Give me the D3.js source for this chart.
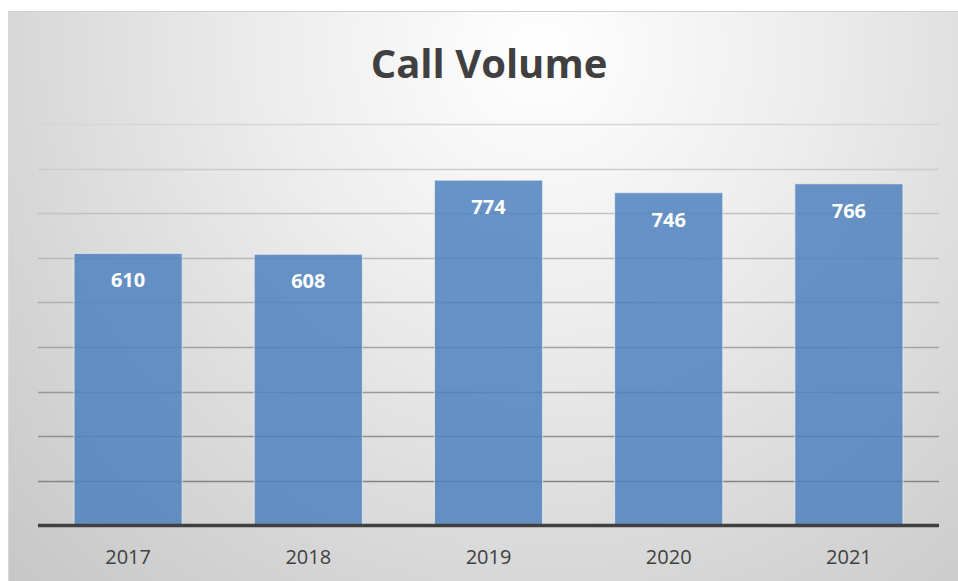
<!DOCTYPE html>
<html><head><meta charset="utf-8">
<script src="https://cdn.jsdelivr.net/npm/d3@7"></script>
<style>html,body{margin:0;padding:0;background:#fff;overflow:hidden}</style>
</head><body>
<script>
const categories = ["2017","2018","2019","2020","2021"];
const values = [610, 608, 774, 746, 766];
const gridTicks = [100,200,300,400,500,600,700,800,900];
const title = "Call Volume";

const W = 958, H = 581;
const svg = d3.select("body").append("svg").attr("width", W).attr("height", H);
const defs = svg.append("defs");
const rg = defs.append("radialGradient").attr("id","bg")
  .attr("gradientUnits","userSpaceOnUse")
  .attr("cx", 540).attr("cy", 50).attr("r", 760);
rg.append("stop").attr("offset","0%").attr("stop-color","#ffffff");
rg.append("stop").attr("offset","35%").attr("stop-color","#ededed");
rg.append("stop").attr("offset","75%").attr("stop-color","#d4d4d4");
rg.append("stop").attr("offset","100%").attr("stop-color","#c6c6c6");

svg.append("rect").attr("x",8).attr("y",11).attr("width",W-8).attr("height",H-11)
  .attr("fill","url(#bg)");
svg.append("line").attr("x1",8).attr("x2",W).attr("y1",11.5).attr("y2",11.5)
  .attr("stroke","#d0d0d0").attr("stroke-width",1);
svg.append("line").attr("x1",8.5).attr("x2",8.5).attr("y1",11).attr("y2",H)
  .attr("stroke","#d8d8d8").attr("stroke-width",1);

const left = 38, right = 939, base = 525.5;
const x = d3.scaleBand().domain(categories).range([left, right]).paddingInner(0.4).paddingOuter(0.2);
const y = d3.scaleLinear().domain([0, 900]).range([base, 124]);

svg.append("text").attr("x", 489).attr("y", 78).attr("text-anchor","middle")
  .attr("font-family","Open Sans, Noto Sans, sans-serif").attr("font-weight","bold")
  .attr("font-size", 40).attr("fill","#404040").text(title);

const gridColor = d3.scaleLinear().domain([900, 100]).range(["#d6d6d6", "#858585"]);
svg.append("g").selectAll("line").data(gridTicks).join("line")
  .attr("x1", left).attr("x2", right)
  .attr("y1", d => Math.round(y(d)) + 0.5).attr("y2", d => Math.round(y(d)) + 0.5)
  .attr("stroke", d => gridColor(d)).attr("stroke-width", 1.4);

svg.append("g").selectAll("rect").data(values).join("rect")
  .attr("x", (d,i) => x(categories[i]))
  .attr("y", d => y(d))
  .attr("width", x.bandwidth())
  .attr("height", d => base - y(d))
  .attr("fill", "#4f81bd").attr("fill-opacity", 0.85)
  .attr("stroke", "#f2f2f2").attr("stroke-opacity", 0.7).attr("stroke-width", 1);

svg.append("g").selectAll("text").data(values).join("text")
  .attr("x", (d,i) => x(categories[i]) + x.bandwidth()/2)
  .attr("y", d => y(d) + 34)
  .attr("text-anchor","middle")
  .attr("font-family","Open Sans, Noto Sans, sans-serif").attr("font-weight","bold")
  .attr("font-size", 20).attr("fill","#ffffff").text(d => d);

svg.append("line").attr("x1", left).attr("x2", right).attr("y1", base).attr("y2", base)
  .attr("stroke","#404040").attr("stroke-width",3.5);

const xAxis = svg.append("g").attr("transform", `translate(0,${base})`)
  .call(d3.axisBottom(x).tickSize(0).tickPadding(24));
xAxis.select(".domain").remove();
xAxis.selectAll("text").attr("font-family","Open Sans, Noto Sans, sans-serif")
  .attr("font-size", 20).attr("fill","#404040");
</script>
</body></html>
